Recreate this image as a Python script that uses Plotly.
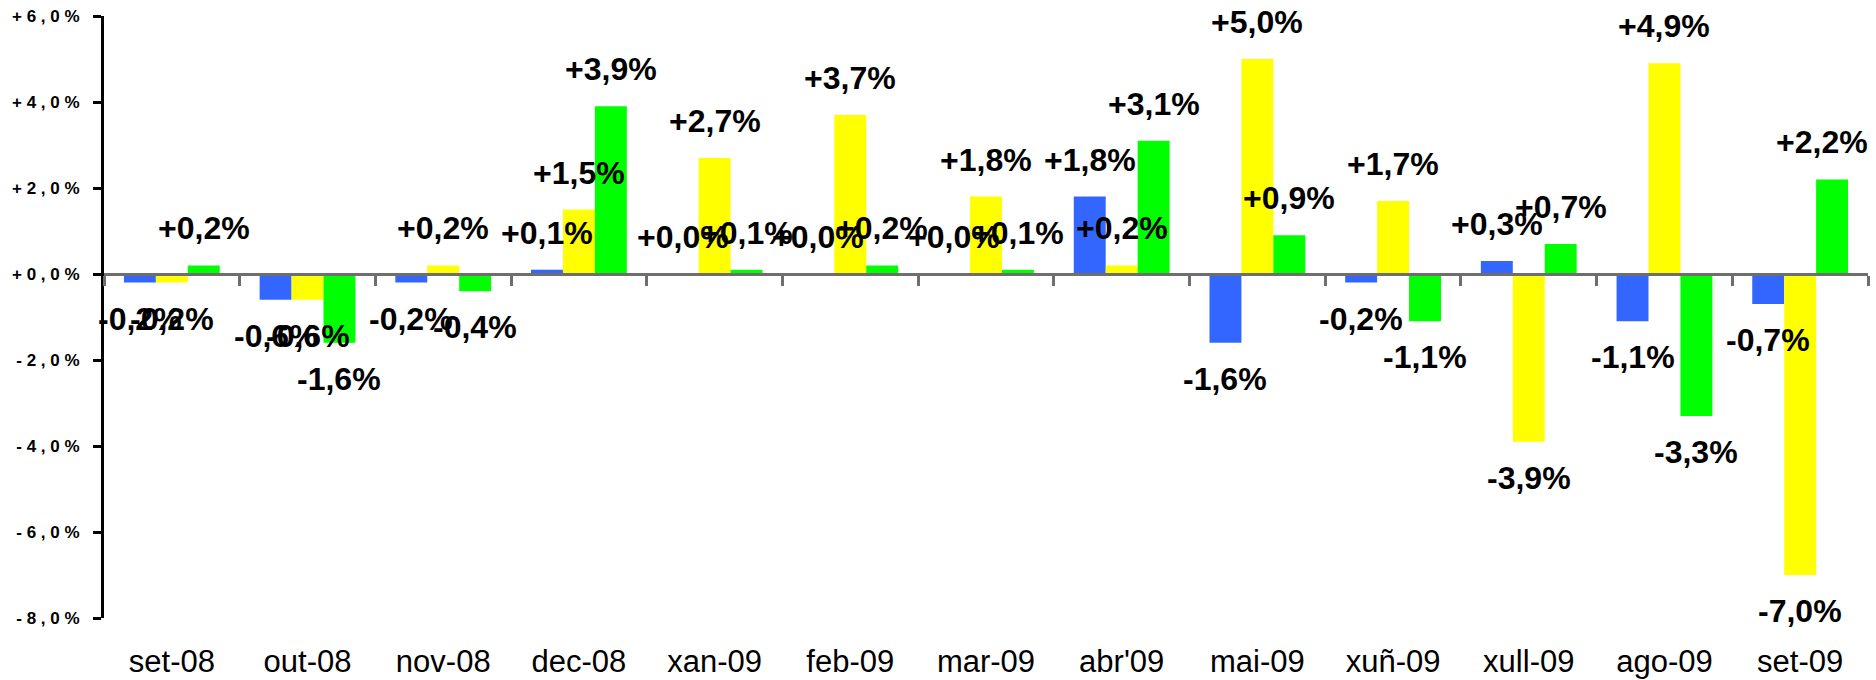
import plotly.graph_objects as go

categories = ["set-08", "out-08", "nov-08", "dec-08", "xan-09", "feb-09", "mar-09",
              "abr'09", "mai-09", "xuñ-09", "xull-09", "ago-09", "set-09"]
blue_vals = [-0.2, -0.6, -0.2, 0.1, 0.0, 0.0, 0.0, 1.8, -1.6, -0.2, 0.3, -1.1, -0.7]
yellow_vals = [-0.2, -0.6, 0.2, 1.5, 2.7, 3.7, 1.8, 0.2, 5.0, 1.7, -3.9, 4.9, -7.0]
green_vals = [0.2, -1.6, -0.4, 3.9, 0.1, 0.2, 0.1, 3.1, 0.9, -1.1, 0.7, -3.3, 2.2]
ytick_vals = [6, 4, 2, 0, -2, -4, -6, -8]
ytick_labels = ["+6,0%", "+4,0%", "+2,0%", "+0,0%", "-2,0%", "-4,0%", "-6,0%", "-8,0%"]

series = [("blue", blue_vals, "#3366FF"), ("yellow", yellow_vals, "#FFFF00"),
          ("green", green_vals, "#00FF00")]

W, H = 1876, 680
ML, MR, MT, MB = 104, 8, 16, 62
BARGAP = 0.294
plot_w = W - ML - MR
cat_px = plot_w / len(categories)
bar_px = cat_px * (1 - BARGAP) / 3
xrange = [-0.5, len(categories) - 0.5]
LABEL_HALF_W = 46  # approx half width of a data label, px

fig = go.Figure()
for name, vals, col in series:
    fig.add_trace(go.Bar(x=categories, y=vals, name=name, marker=dict(color=col, line=dict(width=0)),
                         showlegend=False, hoverinfo="skip"))

# invisible trace to host the zero-line tick axis
fig.add_trace(go.Scatter(x=categories, y=[None] * len(categories), xaxis="x2", yaxis="y",
                         mode="lines", showlegend=False, hoverinfo="skip"))

def fmt(v):
    return f"{v:+.1f}%".replace(".", ",")

annotations = []
for i, (name, vals, col) in enumerate(series):
    for k, (c, v) in enumerate(zip(categories, vals)):
        xs = (i - 1) * bar_px
        center_px = (k + 0.5) * cat_px + xs
        overflow = center_px + LABEL_HALF_W - plot_w
        if overflow > 0:
            xs -= overflow
        annotations.append(dict(x=c, y=v, xref="x", yref="y", text="<b>" + fmt(v) + "</b>",
                                showarrow=False,
                                xshift=xs, yshift=37 if v >= 0 else -36,
                                xanchor="center", yanchor="middle",
                                font=dict(family="Liberation Sans, Arial", size=32, color="black")))

spaced = ["<b>" + "\u00a0".join(list(t)) + "</b>" for t in ytick_labels]

fig.update_layout(
    width=W, height=H,
    margin=dict(l=ML, r=MR, t=MT, b=MB, pad=0, autoexpand=False),
    paper_bgcolor="white", plot_bgcolor="white",
    barmode="group", bargap=BARGAP, bargroupgap=0,
    annotations=annotations,
    xaxis=dict(type="category", categoryorder="array", categoryarray=categories,
               range=xrange, autorange=False, automargin=False,
               showgrid=False, showline=False, zeroline=False, ticks="",
               ticklabelstandoff=22,
               tickfont=dict(family="Liberation Sans, Arial", size=31, color="black")),
    xaxis2=dict(type="category", categoryorder="array", categoryarray=categories,
                overlaying="x", range=xrange, autorange=False, anchor="free", position=8 / 14,
                showline=True, linecolor="#6E6E6E", linewidth=3,
                ticks="outside", tickson="boundaries", ticklen=10, tickwidth=3, tickcolor="#6E6E6E",
                showticklabels=False, showgrid=False, zeroline=False),
    yaxis=dict(range=[-8, 6], autorange=False, automargin=False,
               tickvals=ytick_vals, ticktext=spaced,
               showgrid=False, zeroline=False, showline=True, linecolor="black", linewidth=3,
               ticks="outside", ticklen=8, tickwidth=3, tickcolor="black",
               ticklabelstandoff=10,
               tickfont=dict(family="Liberation Sans, Arial", size=17, color="black")),
)

fig.write_html("out.html", config={"displayModeBar": False},
               post_script="document.body.style.margin='0px';document.body.style.overflow='hidden';")
